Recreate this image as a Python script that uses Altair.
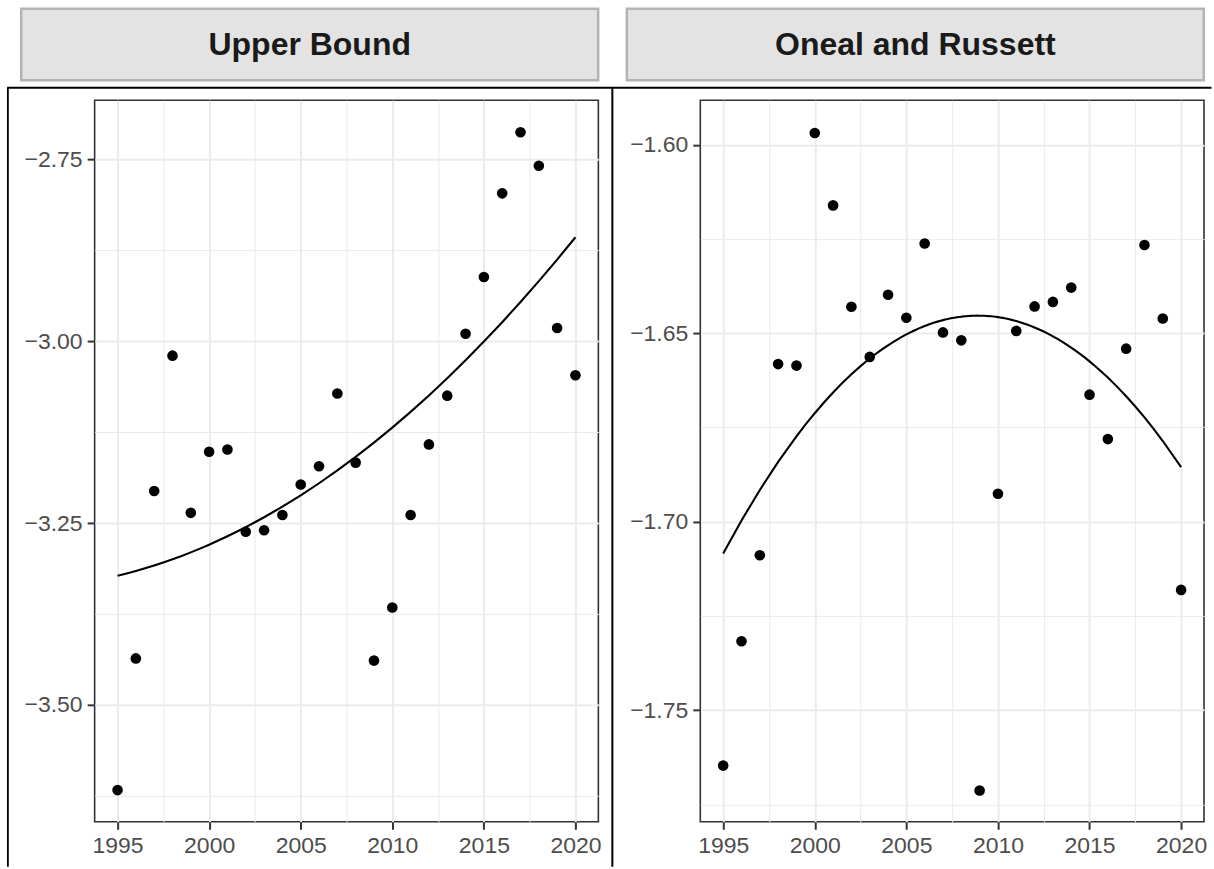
import altair as alt
import pandas as pd

years = list(range(1995, 2021))
titles = ["Upper Bound", "Oneal and Russett"]

upper_bound = [-3.617, -3.436, -3.206, -3.020, -3.236, -3.152, -3.149, -3.262, -3.260,
               -3.239, -3.197, -3.172, -3.072, -3.167, -3.439, -3.366, -3.239, -3.142,
               -3.075, -2.990, -2.912, -2.797, -2.713, -2.759, -2.982, -3.047]
oneal_russett = [-1.7647, -1.7317, -1.7089, -1.6582, -1.6586, -1.5969, -1.6161, -1.6430,
                 -1.6563, -1.6398, -1.6459, -1.6262, -1.6498, -1.6519, -1.7713, -1.6926,
                 -1.6494, -1.6429, -1.6417, -1.6379, -1.6663, -1.6781, -1.6541, -1.6266,
                 -1.6461, -1.7181]

x_ticks = [1995, 1997.5, 2000, 2002.5, 2005, 2007.5, 2010, 2012.5, 2015, 2017.5, 2020]
y1_ticks = [-3.625, -3.5, -3.375, -3.25, -3.125, -3.0, -2.875, -2.75]
y2_ticks = [-1.775, -1.75, -1.725, -1.70, -1.675, -1.65, -1.625, -1.60]
x_domain = [1993.75, 2021.25]
y1_domain = [-3.6605, -2.669]
y2_domain = [-1.7796, -1.5882]

W, H = 504, 722


def make_axis(values, test, fmt_expr):
    return alt.Axis(
        values=values,
        labelExpr=f"({test}) ? {fmt_expr} : ''",
        gridWidth={"condition": {"test": test, "value": 2}, "value": 1},
        tickOpacity={"condition": {"test": test, "value": 1}, "value": 0},
        title=None,
    )


def panel(values, title, ydomain, yticks, ytest, frame=False):
    df = pd.DataFrame({"year": years, "value": values})
    base = alt.Chart(df)
    xaxis = make_axis(x_ticks, "datum.value % 5 == 0", "toString(datum.value)")
    yaxis = make_axis(yticks, ytest,
                      "replace(format(datum.value, '.2f'), '-', '\u2212')")
    x = alt.X("year:Q", scale=alt.Scale(domain=x_domain, nice=False, zero=False),
              axis=xaxis)
    y = alt.Y("value:Q", scale=alt.Scale(domain=ydomain, nice=False, zero=False),
              axis=yaxis)
    pts = base.mark_circle(size=113, color="black", opacity=1).encode(x=x, y=y)
    fit = base.transform_regression("year", "value", method="poly", order=2).mark_line(
        color="black", strokeWidth=2.1).encode(x=x, y=y)
    one = alt.Data(values=[{}])
    strip = alt.Chart(one).mark_rect(fill="#e3e3e3", stroke="#b3b3b3",
                                     strokeWidth=2.5).encode(
        x=alt.value(-73.5), x2=alt.value(503.8), y=alt.value(-91.4), y2=alt.value(-20))
    label = alt.Chart(one).mark_text(font="Liberation Sans", fontWeight="bold",
                                     fontSize=32, color="#1a1a1a", align="center",
                                     baseline="alphabetic").encode(
        x=alt.value(215.2), y=alt.value(-45.7), text=alt.value(title))
    layers = [strip, label]
    if frame:
        top = alt.Chart(one).mark_rule(color="black", strokeWidth=2).encode(
            x=alt.value(-87.5), x2=alt.value(1117.5), y=alt.value(-12.4))
        left = alt.Chart(one).mark_rule(color="black", strokeWidth=1.8).encode(
            x=alt.value(-86.8), y=alt.value(-12.4), y2=alt.value(767))
        mid = alt.Chart(one).mark_rule(color="black", strokeWidth=2).encode(
            x=alt.value(518), y=alt.value(-12.4), y2=alt.value(767))
        layers += [top, left, mid]
    layers += [pts, fit]
    return alt.layer(*layers).properties(width=W, height=H)


p1 = panel(upper_bound, titles[0], y1_domain, y1_ticks,
           "abs(datum.value*4 - round(datum.value*4)) < 1e-6", frame=True)
p2 = panel(oneal_russett, titles[1], y2_domain, y2_ticks,
           "abs(datum.value*20 - round(datum.value*20)) < 1e-6")

chart = alt.hconcat(p1, p2, spacing=102, bounds="flush").properties(
    padding={"left": 4.7, "top": 6, "right": 0, "bottom": 0},
    background="white",
).configure_view(
    stroke="#333333", strokeWidth=1.6
).configure_axis(
    labelFont="Liberation Sans", labelFontSize=23, labelColor="#4d4d4d",
    tickColor="#333333", tickWidth=2, tickSize=7.5, gridColor="#ebebeb",
    domain=False, labelFlush=False, labelOverlap=False, labelPadding=5,
)

chart.save("out.html", embed_options={"renderer": "svg", "actions": False})
